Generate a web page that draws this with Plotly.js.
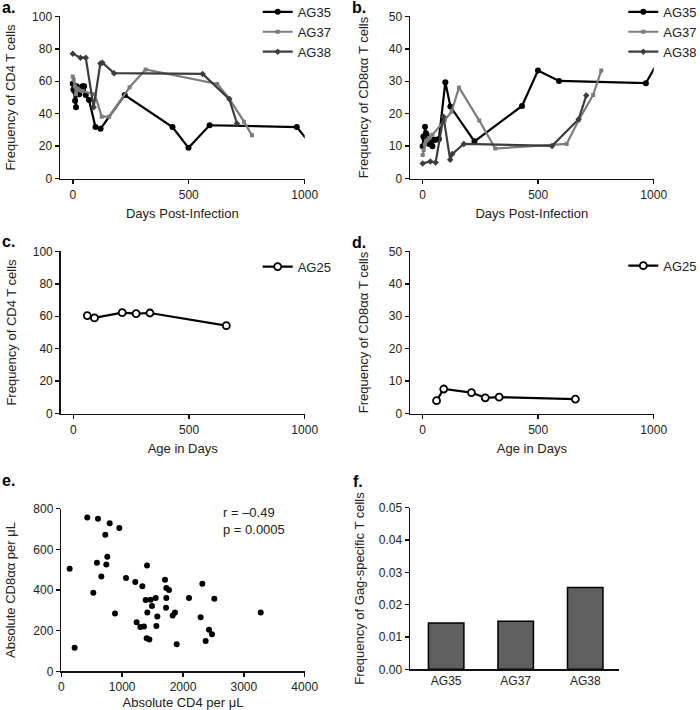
<!DOCTYPE html>
<html>
<head>
<meta charset="utf-8">
<script src="https://cdn.plot.ly/plotly-3.0.1.min.js"></script>
<style>html,body{margin:0;padding:0;background:#fff;}#chart{width:700px;height:710px;}</style>
</head>
<body>
<div id="chart"></div>
<script>
// ---- data ----
var ag35Days = [0, 3, 7, 10, 14, 17, 21, 28, 35, 42, 49, 56, 70, 98, 120, 224, 430, 499, 590, 966, 1030];
var ag35CD4 = [58.5, 55, 54, 48, 44, 57, 56, 52, 56, 57, 57, 51.5, 48.5, 31.8, 30.8, 51.5, 31.8, 19, 32.9, 31.8, 20.5];
var ag35CD8 = [10, 13, 12.5, 16, 14, 13.5, 11.5, 10.7, 11, 10, 12, 12, 12.2, 29.7, 22.2, 11.5, 22.4, 33.3, 30.1, 29.4, 37.5];

var ag37Days = [0, 4, 9, 14, 21, 28, 42, 95, 125, 157, 245, 314, 623, 675, 738, 773];
var ag37CD4 = [63, 61, 57, 52, 55.5, 54.5, 54, 52, 38.2, 38.2, 56.3, 67.3, 58.3, 49.3, 35.1, 26.7];
var ag37CD8 = [7.3, 8.8, 10.5, 11.5, 12, 12.5, 13.5, 18, 20.6, 28.1, 17.9, 9.3, 10.7, 18, 25.8, 33.3];

var ag38Days = [0, 33, 56, 90, 119, 128, 178, 560, 675, 708];
var ag38CD4 = [77, 74.5, 74.5, 44, 71, 71.4, 65, 64.5, 49, 34];
var ag38CD8 = [4.7, 5.3, 5.0, 19.1, 5.8, 7.6, 10.7, 10.1, 18.3, 25.6];

var ag25Days = [60, 91, 211, 271, 331, 661];
var ag25CD4 = [60.4, 59, 62.2, 61.6, 62, 54.2];
var ag25CD8 = [4.0, 7.6, 6.5, 4.9, 5.1, 4.5];

var absCD4 = [427, 603, 795, 953, 723, 756, 586, 740, 137, 1408, 658, 1063, 1216, 1704, 1332, 2318, 526, 1726, 1770, 1386, 1468, 1551, 1726, 2099, 2515, 1490, 1721, 1414, 882, 1578, 1868, 1830, 3277, 2290, 1238, 1299, 1359, 1562, 2427, 2477, 2372, 1403, 1447, 1896, 219];
var absCD8 = [757, 751, 728, 705, 672, 564, 534, 525, 505, 521, 467, 459, 439, 451, 418, 431, 387, 410, 400, 351, 352, 361, 361, 361, 357, 321, 313, 289, 284, 270, 289, 275, 289, 266, 241, 218, 220, 223, 205, 182, 149, 162, 157, 133, 116];

var gagAnimals = ['AG35', 'AG37', 'AG38'];
var gagFreq = [0.0143, 0.0149, 0.0253];

// ---- styling ----
var F = 'Liberation Sans, Arial, sans-serif';
var TXT = '#222';
var C35 = '#000000', C37 = '#7c7c7c', C38 = '#3d3d3d';

function series(x, y, name, color, symbol, size, xa, ya, leg) {
  return {
    type: 'scatter', mode: 'lines+markers', x: x, y: y, name: name,
    xaxis: xa, yaxis: ya, legend: leg,
    line: {color: color, width: 2.2},
    marker: {color: color, symbol: symbol, size: size}
  };
}

var traces = [
  series(ag35Days, ag35CD4, 'AG35', C35, 'circle', 6, 'x', 'y', 'legend'),
  series(ag37Days, ag37CD4, 'AG37', C37, 'square', 4, 'x', 'y', 'legend'),
  series(ag38Days, ag38CD4, 'AG38', C38, 'diamond', 5, 'x', 'y', 'legend'),
  series(ag35Days, ag35CD8, 'AG35', C35, 'circle', 6, 'x2', 'y2', 'legend2'),
  series(ag37Days, ag37CD8, 'AG37', C37, 'square', 4, 'x2', 'y2', 'legend2'),
  series(ag38Days, ag38CD8, 'AG38', C38, 'diamond', 5, 'x2', 'y2', 'legend2'),
  {type: 'scatter', mode: 'lines+markers', x: ag25Days, y: ag25CD4, name: 'AG25', xaxis: 'x3', yaxis: 'y3', legend: 'legend3',
   line: {color: '#000', width: 2.2}, marker: {symbol: 'circle', size: 7, color: '#fff', line: {color: '#000', width: 1.8}}},
  {type: 'scatter', mode: 'lines+markers', x: ag25Days, y: ag25CD8, name: 'AG25', xaxis: 'x4', yaxis: 'y4', legend: 'legend4',
   line: {color: '#000', width: 2.2}, marker: {symbol: 'circle', size: 7, color: '#fff', line: {color: '#000', width: 1.8}}},
  {type: 'scatter', mode: 'markers', x: absCD4, y: absCD8, xaxis: 'x5', yaxis: 'y5', showlegend: false,
   marker: {color: '#000', size: 6}},
  {type: 'bar', x: gagAnimals, y: gagFreq, xaxis: 'x6', yaxis: 'y6', showlegend: false, width: 0.51,
   marker: {color: '#5f5f5f', line: {color: '#000', width: 1.5}}}
];

function ax(extra) {
  var base = {
    showline: true, linecolor: '#111', linewidth: 1.5, ticks: 'outside', ticklen: 4,
    tickwidth: 1.5, tickcolor: '#111', showgrid: false, zeroline: false,
    tickfont: {family: F, size: 12, color: TXT}, fixedrange: true
  };
  for (var k in extra) base[k] = extra[k];
  return base;
}
function tt(text, standoff) { return {text: text, font: {family: F, size: 13, color: TXT}, standoff: standoff}; }
function px(v) { return v / 700; }
function py(v) { return 1 - v / 710; }

var legendBase = function (x, y) {
  return {x: x, y: y, xanchor: 'left', yanchor: 'top', bgcolor: 'rgba(0,0,0,0)',
          font: {family: F, size: 13, color: TXT}, tracegroupgap: 0};
};

var layout = {
  width: 700, height: 710,
  margin: {l: 0, r: 0, t: 0, b: 0, autoexpand: false},
  paper_bgcolor: '#fff', plot_bgcolor: '#fff',
  showlegend: true,
  xaxis: ax({domain: [px(60), px(304.7)], range: [-55, 1000], dtick: 500, tick0: 0, anchor: 'y', title: tt('Days Post-Infection', 8)}),
  yaxis: ax({domain: [py(178.7), py(16.3)], range: [0, 100], dtick: 20, anchor: 'x', title: tt('Frequency of CD4 T cells', 13)}),
  xaxis2: ax({domain: [px(410), px(653.7)], range: [-55, 1000], dtick: 500, tick0: 0, anchor: 'y2', title: tt('Days Post-Infection', 8)}),
  yaxis2: ax({domain: [py(178.7), py(16.3)], range: [0, 50], dtick: 10, anchor: 'x2', title: tt('Frequency of CD8\u03b1\u03b1 T cells', 17)}),
  xaxis3: ax({domain: [px(60.7), px(304.7)], range: [-55, 1000], dtick: 500, tick0: 0, anchor: 'y3', title: tt('Age in Days', 8)}),
  yaxis3: ax({domain: [py(413.7), py(251.3)], range: [0, 100], dtick: 20, anchor: 'x3', title: tt('Frequency of CD4 T cells', 13)}),
  xaxis4: ax({domain: [px(410), px(653.7)], range: [-55, 1000], dtick: 500, tick0: 0, anchor: 'y4', title: tt('Age in Days', 8)}),
  yaxis4: ax({domain: [py(413.7), py(251.3)], range: [0, 50], dtick: 10, anchor: 'x4', title: tt('Frequency of CD8\u03b1\u03b1 T cells', 17)}),
  xaxis5: ax({domain: [px(61.3), px(304.7)], range: [0, 4000], dtick: 1000, anchor: 'y5', title: tt('Absolute CD4 per \u03bcL', 6)}),
  yaxis5: ax({domain: [py(671.3), py(508.7)], range: [0, 800], dtick: 200, anchor: 'x5', title: tt('Absolute CD8\u03b1\u03b1 per \u03bcL', 15)}),
  xaxis6: ax({domain: [px(410), px(619.3)], range: [-0.52, 2.49], type: 'category', ticks: '', anchor: 'y6'}),
  yaxis6: ax({domain: [py(669.3), py(507.7)], range: [0, 0.05], dtick: 0.01, tickformat: '.2f', anchor: 'x6', title: tt('Frequency of Gag-specific T cells', 11)}),
  legend: legendBase(px(257.7), 1.0044),
  legend2: legendBase(px(623.3), 1.0044),
  legend3: legendBase(px(257.7), py(251.75)),
  legend4: legendBase(px(623.3), py(250.75)),
  annotations: [
    {text: '<b>a.</b>', xref: 'paper', yref: 'paper', x: 0, y: py(7.7), xanchor: 'left', yanchor: 'middle', showarrow: false, font: {family: F, size: 16, color: '#000'}},
    {text: '<b>b.</b>', xref: 'paper', yref: 'paper', x: px(350), y: py(7.7), xanchor: 'left', yanchor: 'middle', showarrow: false, font: {family: F, size: 16, color: '#000'}},
    {text: '<b>c.</b>', xref: 'paper', yref: 'paper', x: 0, y: py(241), xanchor: 'left', yanchor: 'middle', showarrow: false, font: {family: F, size: 16, color: '#000'}},
    {text: '<b>d.</b>', xref: 'paper', yref: 'paper', x: px(350), y: py(242), xanchor: 'left', yanchor: 'middle', showarrow: false, font: {family: F, size: 16, color: '#000'}},
    {text: '<b>e.</b>', xref: 'paper', yref: 'paper', x: 0, y: py(480), xanchor: 'left', yanchor: 'middle', showarrow: false, font: {family: F, size: 16, color: '#000'}},
    {text: '<b>f.</b>', xref: 'paper', yref: 'paper', x: px(351), y: py(481), xanchor: 'left', yanchor: 'middle', showarrow: false, font: {family: F, size: 16, color: '#000'}},
    {text: 'r = \u20130.49<br>p = 0.0005', xref: 'paper', yref: 'paper', x: px(221), y: py(521), xanchor: 'left', yanchor: 'middle', align: 'left', showarrow: false, font: {family: F, size: 13, color: TXT}}
  ]
};

Plotly.newPlot('chart', traces, layout, {displayModeBar: false, staticPlot: true});
</script>
</body>
</html>
